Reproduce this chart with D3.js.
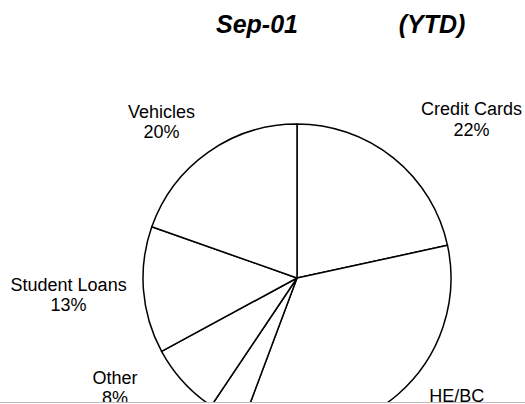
<!DOCTYPE html>
<html>
<head>
<meta charset="utf-8">
<script src="https://cdn.jsdelivr.net/npm/d3@7"></script>
<style>
  html, body { margin: 0; padding: 0; background: #fff; }
  svg { display: block; }
</style>
</head>
<body>
<div id="chart"></div>
<script>
// data (clockwise from 12 o'clock)
const categories = ["Credit Cards", "HE/BC", "Boats/RVs", "Other", "Student Loans", "Vehicles"];
const shares = [21.6, 34.1, 3.7, 7.7, 13.3, 19.6];
const shareLabels = ["22%", "34%", "4%", "8%", "13%", "20%"];
const titleParts = ["Sep-01", "(YTD)"];

// label nudges from the centroid of the label ring (layout only)
const labelNudge = [[49, -7], [29, -27], [0, 0], [-34, -29], [-29, -3], [-20, 3]];

const W = 525, H = 404;
const cx = 297, cy = 278, R = 154;
const clipBottom = 402;
const lineGap = 20.5;

const svg = d3.select("#chart").append("svg")
    .attr("width", W)
    .attr("height", H);

svg.append("defs").append("clipPath")
    .attr("id", "crop")
    .append("rect")
    .attr("x", 0).attr("y", 0)
    .attr("width", W).attr("height", clipBottom);

const root = svg.append("g").attr("clip-path", "url(#crop)");

// title
const title = root.append("g")
    .attr("font-family", "Liberation Sans, Arial, sans-serif")
    .attr("font-size", 25)
    .attr("font-weight", "bold")
    .attr("font-style", "italic")
    .attr("fill", "#000");

title.append("text").attr("x", 257).attr("y", 33).attr("text-anchor", "middle").text(titleParts[0]);
title.append("text").attr("x", 432).attr("y", 33).attr("text-anchor", "middle").text(titleParts[1]);

// pie
const pie = d3.pie().sort(null).value(d => d);
const arcs = pie(shares);

const arc = d3.arc().innerRadius(0).outerRadius(R);
const labelArc = d3.arc().innerRadius(200).outerRadius(200);

const g = root.append("g").attr("transform", `translate(${cx},${cy})`);

g.selectAll("path")
    .data(arcs)
    .join("path")
    .attr("d", arc)
    .attr("fill", "#fff")
    .attr("stroke", "#000")
    .attr("stroke-width", 1.5)
    .attr("stroke-linejoin", "round");

// labels: only the lines that reach into the visible (cropped) area
const labelPos = arcs.map((d, i) => {
    const [x, y] = labelArc.centroid(d);
    return [cx + x + labelNudge[i][0], cy + y + labelNudge[i][1]];
});

const lines = [];
arcs.forEach((d, i) => {
    [categories[i], shareLabels[i]].forEach((t, k) => {
        const y = labelPos[i][1] + k * lineGap;
        if (y - 14 < clipBottom) lines.push({ x: labelPos[i][0], y, t });
    });
});

root.selectAll("text.lbl")
    .data(lines)
    .join("text")
    .attr("class", "lbl")
    .attr("font-family", "Liberation Sans, Arial, sans-serif")
    .attr("font-size", 18)
    .attr("fill", "#000")
    .attr("text-anchor", "middle")
    .attr("x", d => d.x)
    .attr("y", d => d.y)
    .text(d => d.t);

// bottom crop edge
svg.append("line")
    .attr("x1", 0).attr("x2", W)
    .attr("y1", clipBottom + 0.5).attr("y2", clipBottom + 0.5)
    .attr("stroke", "#bdbdbd")
    .attr("stroke-width", 1);
</script>
</body>
</html>
